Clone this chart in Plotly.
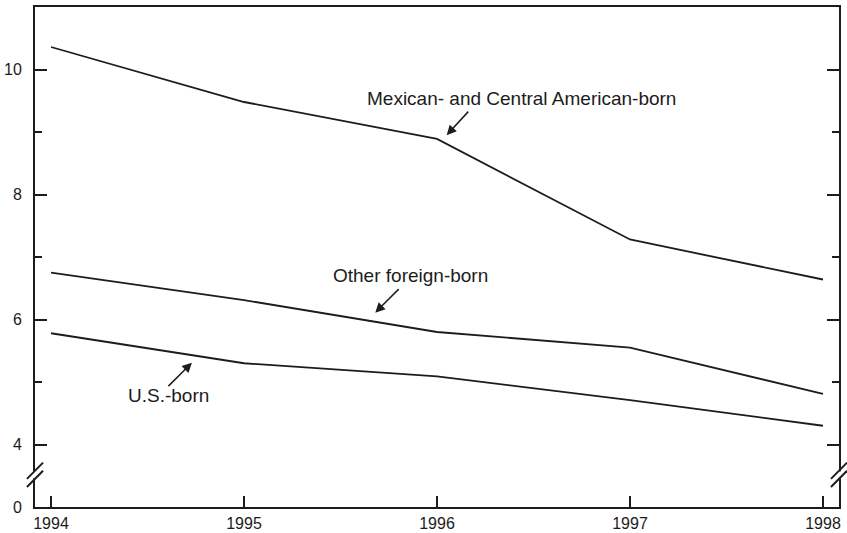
import plotly.graph_objects as go

# Data
years = [1994, 1995, 1996, 1997, 1998]
mexican_central = [10.36, 9.48, 8.89, 7.28, 6.64]
other_foreign = [6.75, 6.31, 5.80, 5.55, 4.81]
us_born = [5.78, 5.30, 5.09, 4.71, 4.30]

y_tick_vals = [3, 4, 6, 8, 10]
y_tick_text = ["0", "4", "6", "8", "10"]
y_minor_vals = [5, 7, 9]

INK = "#1c1c1c"
FONT = "Liberation Sans, Arial, Helvetica, sans-serif"

fig = go.Figure()
for name, vals in [("Mexican- and Central American-born", mexican_central),
                   ("Other foreign-born", other_foreign),
                   ("U.S.-born", us_born)]:
    fig.add_trace(go.Scatter(x=years, y=vals, mode="lines", name=name,
                             line=dict(color=INK, width=1.8), showlegend=False))

# invisible trace to carry the right-hand y axis
fig.add_trace(go.Scatter(x=[years[0]], y=[None], yaxis="y2", showlegend=False,
                         hoverinfo="skip"))

yrange = [3, 11]
axis_common = dict(showline=True, linecolor=INK, linewidth=2, showgrid=False,
                   zeroline=False, range=yrange, ticks="inside", ticklen=12,
                   tickwidth=2, tickcolor=INK, tickmode="array",
                   tickvals=y_tick_vals, automargin=False,
                   minor=dict(tickmode="array", tickvals=y_minor_vals,
                              ticks="inside", ticklen=7, tickwidth=2,
                              tickcolor=INK, showgrid=False))

fig.update_layout(
    width=847, height=533,
    margin=dict(l=35, r=8, t=7, b=26, autoexpand=False),
    paper_bgcolor="white", plot_bgcolor="white",
    font=dict(family=FONT, size=16, color=INK),
    xaxis=dict(range=[1993.917, 1998.083], tickmode="array", tickvals=years,
               ticktext=[str(y) for y in years], ticks="inside", ticklen=11,
               tickwidth=2, tickcolor=INK, showline=True, linecolor=INK,
               linewidth=2, mirror=True, showgrid=False, zeroline=False,
               ticklabelstandoff=1, automargin=False, tickfont=dict(size=16)),
    yaxis=dict(**axis_common, ticktext=y_tick_text, ticklabelstandoff=8,
               tickfont=dict(size=16)),
    yaxis2=dict(**axis_common, overlaying="y", side="right", showticklabels=False),
)

# Axis break marks on both vertical axes
brk_lo, brk_hi = 3.45, 3.58
dx = 0.010
dy = 0.13
for xp in (0.0, 1.0):
    fig.add_shape(type="rect", xref="paper", yref="y", x0=xp - 0.006, x1=xp + 0.006,
                  y0=brk_lo + 0.01, y1=brk_hi - 0.01, fillcolor="white",
                  line=dict(width=0), layer="above")
    for yc in (brk_lo, brk_hi):
        fig.add_shape(type="line", xref="paper", yref="y",
                      x0=xp - dx, y0=yc - dy, x1=xp + dx, y1=yc + dy,
                      line=dict(color=INK, width=2), layer="above")

# Series labels
labels = [
    ("Mexican- and Central American-born", 1996.44, 9.54),
    ("Other foreign-born", 1995.865, 6.71),
    ("U.S.-born", 1994.61, 4.78),
]
for text, x, y in labels:
    fig.add_annotation(x=x, y=y, text=text, showarrow=False,
                       font=dict(size=19, family=FONT, color=INK))

# Pointer arrows
arrows = [
    (1996.05, 8.95, 23, -25),
    (1995.68, 6.11, 25, -25),
    (1994.73, 5.31, -25, 25),
]
for x, y, ax, ay in arrows:
    fig.add_annotation(x=x, y=y, ax=ax, ay=ay, text="", showarrow=True,
                       arrowhead=2, arrowsize=1.3, arrowwidth=1.5,
                       arrowcolor=INK)

fig.write_html("out.html")
